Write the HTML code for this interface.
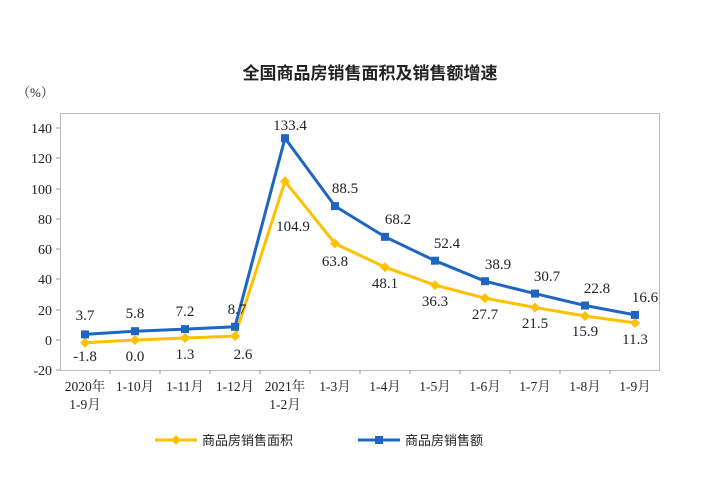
<!DOCTYPE html>
<html><head><meta charset="utf-8"><style>
body{margin:0;background:#fff;width:725px;height:475px;overflow:hidden}
text{font-family:"Liberation Serif","Noto Serif CJK SC",serif;fill:#222}
</style></head><body>
<svg width="725" height="475" viewBox="0 0 725 475">
<text x="370" y="79" font-size="17" font-weight="bold" text-anchor="middle" style="font-family:'Noto Sans CJK SC',sans-serif">全国商品房销售面积及销售额增速</text>
<text x="17" y="97" font-size="13">（%）</text>
<rect x="60.5" y="113.5" width="599" height="257" fill="none" stroke="#bbb"/>
<g font-size="14" text-anchor="end">
<text x="52" y="133">140</text><text x="52" y="163">120</text><text x="52" y="194">100</text><text x="52" y="224">80</text><text x="52" y="254">60</text><text x="52" y="284">40</text><text x="52" y="315">20</text><text x="52" y="345">0</text><text x="52" y="375">-20</text>
</g>
<g stroke="#999"><path d="M60 128h-4M60 158h-4M60 189h-4M60 219h-4M60 249h-4M60 279h-4M60 310h-4M60 340h-4M60 370h-4"/>
<path d="M110 370v4M160 370v4M210 370v4M260 370v4M310 370v4M360 370v4M410 370v4M460 370v4M510 370v4M560 370v4M610 370v4"/></g>
<g font-size="13.5" text-anchor="middle" style="font-family:'Liberation Serif','Noto Serif CJK SC',serif">
<text x="85" y="391">2020年</text><text x="85" y="409">1-9月</text>
<text x="135" y="391">1-10月</text><text x="185" y="391">1-11月</text><text x="235" y="391">1-12月</text>
<text x="285" y="391">2021年</text><text x="285" y="409">1-2月</text>
<text x="335" y="391">1-3月</text><text x="385" y="391">1-4月</text><text x="435" y="391">1-5月</text><text x="485" y="391">1-6月</text><text x="535" y="391">1-7月</text><text x="585" y="391">1-8月</text><text x="635" y="391">1-9月</text>
</g>
<polyline fill="none" stroke="#ffc000" stroke-width="3" points="85,342.7 135,340 185,338 235,336.1 285,181.3 335,243.5 385,267.2 435,285.1 485,298.1 535,307.5 585,316 635,322.9"/>
<polyline fill="none" stroke="#1f66c2" stroke-width="3" points="85,334.4 135,331.2 185,329.1 235,326.8 285,138.2 335,206.1 385,236.8 435,260.7 485,281.2 535,293.6 585,305.5 635,314.9"/>
<g fill="#ffc000">
<path d="M85 337.7l5 5-5 5-5-5zM135 335l5 5-5 5-5-5zM185 333l5 5-5 5-5-5zM235 331.1l5 5-5 5-5-5zM285 176.3l5 5-5 5-5-5zM335 238.5l5 5-5 5-5-5zM385 262.2l5 5-5 5-5-5zM435 280.1l5 5-5 5-5-5zM485 293.1l5 5-5 5-5-5zM535 302.5l5 5-5 5-5-5zM585 311l5 5-5 5-5-5zM635 317.9l5 5-5 5-5-5z"/></g>
<g fill="#1f66c2">
<rect x="81" y="330.4" width="8" height="8"/><rect x="131" y="327.2" width="8" height="8"/><rect x="181" y="325.1" width="8" height="8"/><rect x="231" y="322.8" width="8" height="8"/><rect x="281" y="134.2" width="8" height="8"/><rect x="331" y="202.1" width="8" height="8"/><rect x="381" y="232.8" width="8" height="8"/><rect x="431" y="256.7" width="8" height="8"/><rect x="481" y="277.2" width="8" height="8"/><rect x="531" y="289.6" width="8" height="8"/><rect x="581" y="301.5" width="8" height="8"/><rect x="631" y="310.9" width="8" height="8"/></g>
<g font-size="15" text-anchor="middle">
<text x="85" y="320">3.7</text><text x="135" y="318">5.8</text><text x="185" y="316">7.2</text><text x="237" y="314">8.7</text>
<text x="290" y="130">133.4</text><text x="345" y="193">88.5</text><text x="398" y="224">68.2</text><text x="447" y="248">52.4</text><text x="498" y="269">38.9</text><text x="547" y="281">30.7</text><text x="597" y="293">22.8</text><text x="645" y="302">16.6</text>
<text x="85" y="361">-1.8</text><text x="135" y="361">0.0</text><text x="185" y="359">1.3</text><text x="243" y="359">2.6</text>
<text x="293" y="231">104.9</text><text x="335" y="266">63.8</text><text x="385" y="288">48.1</text><text x="435" y="306">36.3</text><text x="485" y="319">27.7</text><text x="535" y="328">21.5</text><text x="585" y="336">15.9</text><text x="635" y="344">11.3</text>
</g>
<line x1="155" y1="440" x2="197" y2="440" stroke="#ffc000" stroke-width="3"/><path d="M176 435l5 5-5 5-5-5z" fill="#ffc000"/>
<text x="202" y="445" font-size="13" style="font-family:'Noto Sans CJK SC',sans-serif">商品房销售面积</text>
<line x1="358" y1="440" x2="400" y2="440" stroke="#1f66c2" stroke-width="3"/><rect x="375" y="436" width="8" height="8" fill="#1f66c2"/>
<text x="405" y="445" font-size="13" style="font-family:'Noto Sans CJK SC',sans-serif">商品房销售额</text>
</svg>
</body></html>
